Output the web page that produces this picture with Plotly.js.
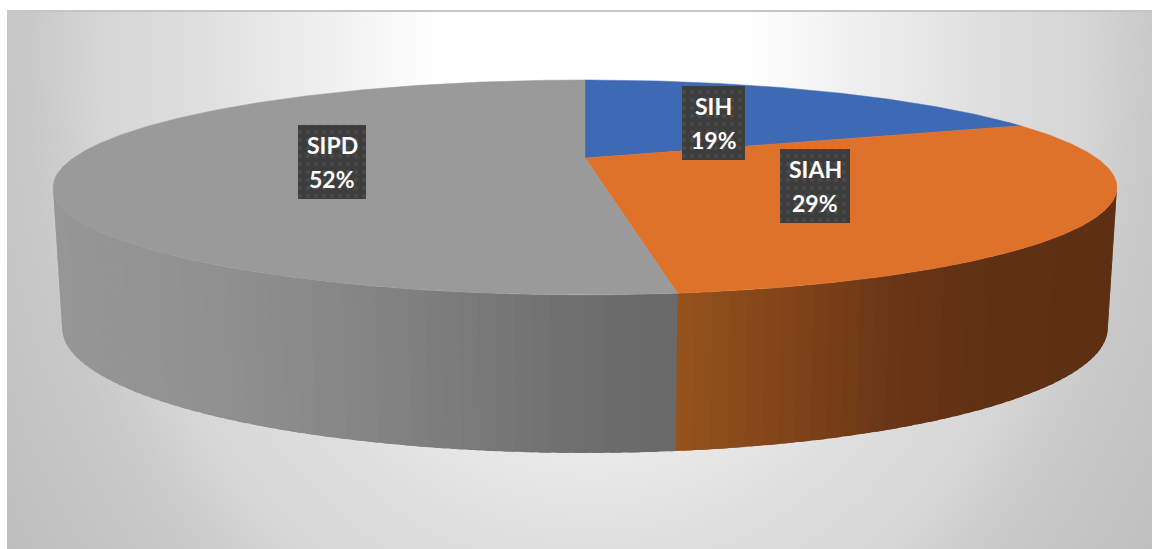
<!DOCTYPE html>
<html><head><meta charset="utf-8">
<script src="https://cdn.plot.ly/plotly-3.0.1.min.js"></script>
<style>
html,body{margin:0;padding:0;background:#fff;width:1152px;height:549px;overflow:hidden}
#bg{position:absolute;left:7px;top:10px;width:1145px;height:539px;box-sizing:border-box;border-top:2px solid #c6c6c6;
background:radial-gradient(565px 720px at 585px 40px,#ffffff 0%,#ffffff 27%,#f0f0f0 46%,#dddddd 72%,#d6d6d6 87%,#c8c8c8 100%,#bcbcbc 130%)}
#chart{position:absolute;left:0;top:0;width:1152px;height:549px}
</style></head><body>
<div id="bg"></div><div id="chart"></div>
<script>
// Data
const categories = ['SIH', 'SIAH', 'SIPD'];
const values = [19.2, 28.7, 52.1];
const percentLabels = ['19%', '29%', '52%'];
const topColors = ['#3d69b5', '#de722b', '#9a9a9a'];

// Side shading, sampled left to right along the rim: [screen x, r, g, b]
const graySideStops = [[52,150,150,150],[200,145,145,145],[300,138,138,138],[450,124,124,124],[560,112,112,112],[678,104,104,104]];
const orangeSideStops = [[678,150,82,28],[800,126,67,24],[900,104,53,22],[1000,95,48,19],[1117,94,48,19]];

// Projection of the tilted disc to the pixel grid
const topDisc = {cx:585, cy:158, A:511.6, B:99.4, k:0.274};
const bottomDisc = {cx:585, cy:293.7, A:502.8, B:115.6, k:0.274};

// Label boxes [centre x, centre y, width, height]
const labelBoxes = [[713.5,123,63,74],[815,186,70,74],[332,162,68,74]];

const project = (d, deg) => {
  const t = deg*Math.PI/180, u = Math.sin(t), v = Math.cos(t), w = 1 + d.k*v;
  return [d.cx + d.A*u/w, d.cy - d.B*v/w];
};
const shade = (stops, x) => {
  let i = 0;
  while (i < stops.length-2 && x > stops[i+1][0]) i++;
  const a = stops[i], b = stops[i+1], f = Math.min(1, Math.max(0, (x-a[0])/(b[0]-a[0])));
  return 'rgb(' + [1,2,3].map(j => Math.round(a[j]+(b[j]-a[j])*f)).join(',') + ')';
};

const total = values.reduce((s,v) => s+v, 0);
let acc = 0;
const spans = values.map(v => { const s = acc/total*360; acc += v; return [s, acc/total*360]; });
const traces = [];
const base = {type:'scatter', mode:'lines', fill:'toself', hoverinfo:'skip', showlegend:false};

// Visible side wall: each band runs under the next one, so no seam shows
const edge = Math.acos(-topDisc.k)*180/Math.PI;
const sideFrom = edge, sideTo = 360-edge, bandDeg = 1.5;
spans.forEach((sp, i) => {
  const a0 = Math.max(sp[0], sideFrom), a1 = Math.min(sp[1], sideTo);
  if (a1 <= a0) return;
  const n = Math.ceil((a1-a0)/bandDeg), stops = i === 1 ? orangeSideStops : graySideStops;
  for (let j = 0; j < n; j++) {
    const s = a0+(a1-a0)*j/n, e = a0+(a1-a0)*(j+1)/n, over = j < n-1 ? e+1 : e+(i===1?0.5:0);
    const p = [project(topDisc,s), project(topDisc,(s+over)/2), project(topDisc,over),
               project(bottomDisc,over), project(bottomDisc,(s+over)/2), project(bottomDisc,s)];
    const col = shade(stops, project(topDisc,(s+e)/2)[0]);
    traces.push({...base, x:p.map(q=>q[0]), y:p.map(q=>q[1]), fillcolor:col, line:{color:col, width:0}});
  }
});

// Top face
spans.forEach((sp, i) => {
  const xs = [topDisc.cx], ys = [topDisc.cy], n = Math.ceil(sp[1]-sp[0])*2;
  for (let j = 0; j <= n; j++) {
    const p = project(topDisc, sp[0]+(sp[1]-sp[0])*j/n);
    xs.push(p[0]); ys.push(p[1]);
  }
  xs.push(topDisc.cx); ys.push(topDisc.cy);
  traces.push({...base, x:xs, y:ys, fillcolor:topColors[i], line:{color:topColors[i], width:0.5}, name:categories[i]});
});

// Label boxes and label text
const annotations = [];
labelBoxes.forEach((b, i) => {
  const l = b[0]-b[2]/2, r = b[0]+b[2]/2, t = b[1]-b[3]/2, u = b[1]+b[3]/2;
  traces.push({...base, x:[l,r,r,l,l], y:[t,t,u,u,t], line:{width:0, color:'#3e3e3e'}, fillcolor:'#3e3e3e',
    fillpattern:{shape:'.', bgcolor:'#3d3d3d', fgcolor:'#4b4b4b', size:8, solidity:0.2}});
  [[categories[i],-17],[percentLabels[i],17]].forEach(([txt,dy]) => annotations.push({
    x:b[0], y:b[1]+dy, xref:'x', yref:'y', text:txt, showarrow:false, xanchor:'center', yanchor:'middle',
    font:{family:'Lato, "Open Sans", sans-serif', size:23, color:'#ffffff', weight:700}
  }));
});

Plotly.newPlot('chart', traces, {
  width:1152, height:549, margin:{l:0,r:0,t:0,b:0},
  paper_bgcolor:'rgba(0,0,0,0)', plot_bgcolor:'rgba(0,0,0,0)', showlegend:false,
  xaxis:{range:[0,1152], visible:false, fixedrange:true},
  yaxis:{range:[549,0], visible:false, fixedrange:true},
  annotations
}, {displayModeBar:false, staticPlot:true});
</script>
</body></html>
